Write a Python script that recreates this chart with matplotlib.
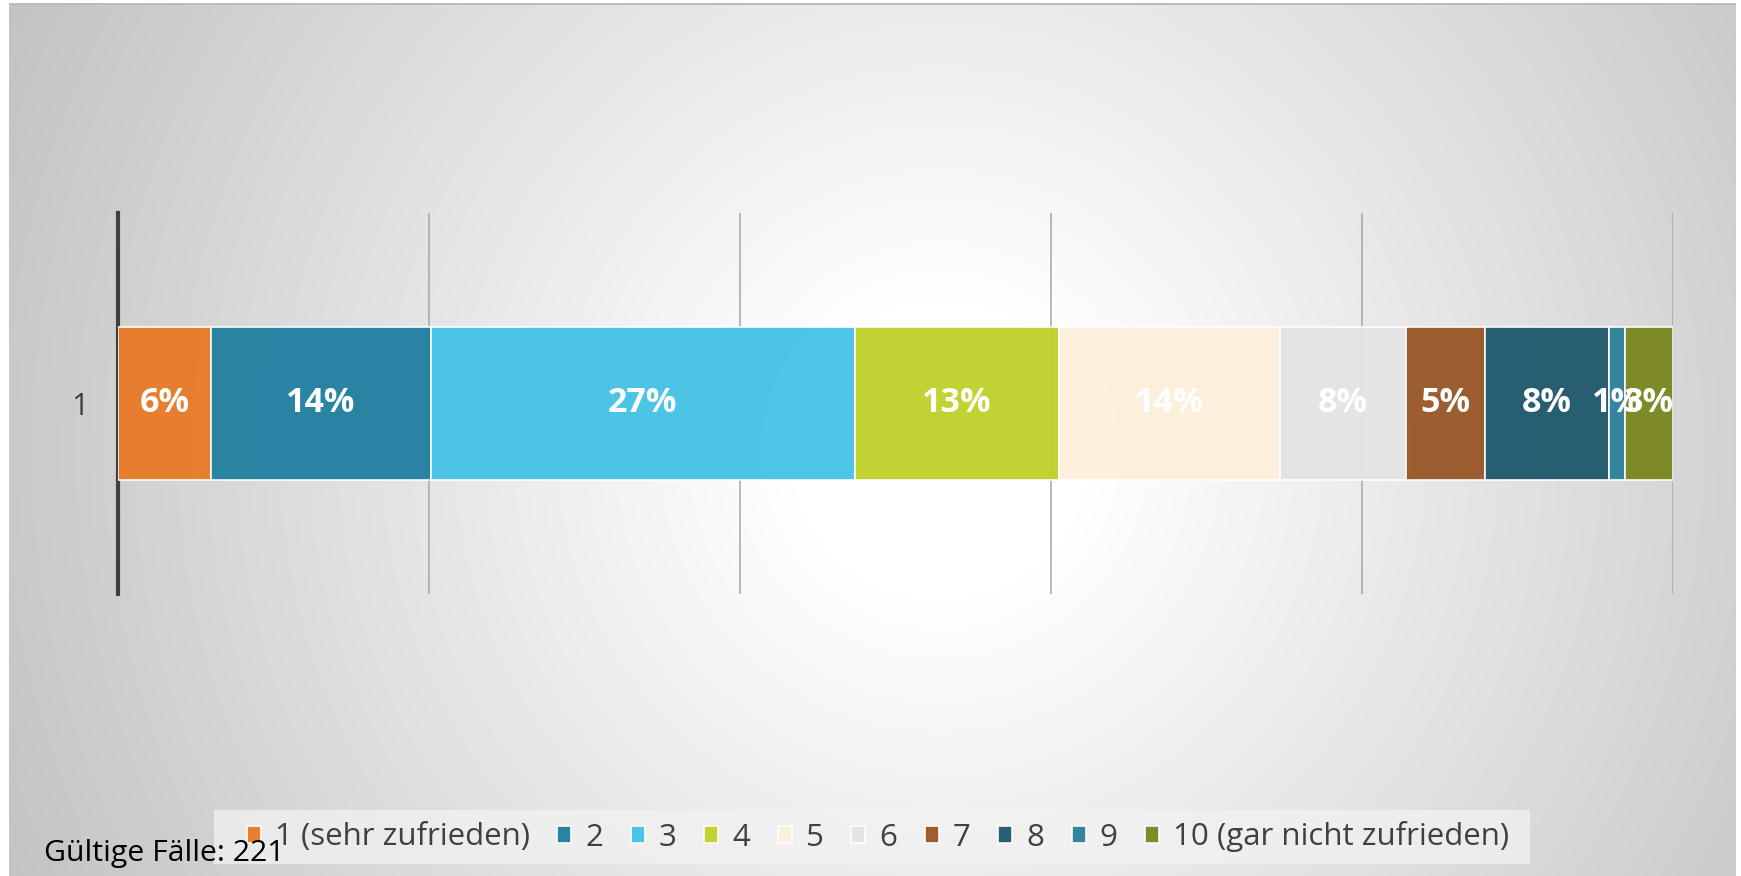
import numpy as np
import matplotlib
matplotlib.use("Agg")
import matplotlib.pyplot as plt
from matplotlib.patches import Rectangle

plt.rcParams["font.family"] = ["Open Sans", "DejaVu Sans"]

# Share of answers per rating (percent), one stacked bar
categories = ["1 (sehr zufrieden)", "2", "3", "4", "5", "6", "7", "8", "9",
              "10 (gar nicht zufrieden)"]
shares = [6.0, 14.1, 27.3, 13.1, 14.2, 8.1, 5.1, 8.0, 1.0, 3.1]
row_labels = ["1"]
n_cases = 221

colors = ["#E87B2A", "#2380A0", "#46C3E6", "#BFD22B", "#FDF0DC",
          "#E3E4E3", "#9A5A2A", "#215A6D", "#2F829A", "#7B8722"]

W, H = 1741, 876
fig = plt.figure(figsize=(W / 100, H / 100), dpi=100)
fig.patch.set_facecolor("white")

# radial grey-to-white background like the spreadsheet chart area
bg = fig.add_axes([0, 0, 1, 1], zorder=-5)
yy, xx = np.mgrid[0:H, 0:W]
d = np.hypot(xx - 940, yy - 450)
v = 1 - 0.25 * np.clip((d - 150) / 930, 0, 1)
img = np.dstack([v, v, v])
img[:3, :] = 1
img[3:5, 9:1736] = 0.74
img[:, :9] = 1
img[:, 1736:] = 1
bg.imshow(img, extent=(0, W, H, 0), aspect="auto", interpolation="nearest")
# legend box sits behind the legend entries
bg.add_patch(Rectangle((214, 810), 1316, 54, facecolor="#f2f2f2", alpha=0.75,
                       edgecolor="none"))
bg.set_xlim(0, W)
bg.set_ylim(H, 0)
bg.axis("off")

ax = fig.add_axes([118 / W, 1 - 594 / H, (1673 - 118) / W, (594 - 213) / H])
ax.set_facecolor("none")

left = 0
for cat, val, col in zip(categories, shares, colors):
    ax.barh(0, val, left=left, height=0.4, color=col, edgecolor=(1, 1, 1, 0.6),
            linewidth=1.2, label=cat, zorder=3, alpha=0.97)
    ax.text(left + val / 2, 0, f"{round(val)}%", ha="center", va="center",
            color="white", fontsize=24.5, fontweight="bold", zorder=4)
    left += val

ax.set_xlim(0, 100)
ax.set_ylim(-0.5, 0.5)
ax.set_xticks([20, 40, 60, 80, 100])
ax.xaxis.grid(True, color="#a6a6a6", linewidth=1.1, zorder=1)
ax.tick_params(axis="x", length=0, labelbottom=False)
ax.set_yticks([0])
ax.set_yticklabels(row_labels)
ax.tick_params(axis="y", length=0, pad=21, labelsize=22, labelcolor="#404040")
for side in ["top", "right", "bottom"]:
    ax.spines[side].set_visible(False)
ax.spines["left"].set_color("#404040")
ax.spines["left"].set_linewidth(3)

fig.legend(loc="center", bbox_to_anchor=(878 / W, 1 - 837 / H), ncol=10,
           fontsize=22.5, frameon=False, borderpad=0.3,
           handlelength=0.45, handleheight=0.45, handletextpad=0.45,
           columnspacing=0.88, labelcolor="#404040")

fig.text(44 / W, 1 - 854 / H, f"Gültige Fälle: {n_cases}", ha="left",
         va="center", fontsize=21.8, color="black", zorder=10)

fig.savefig("out.png", dpi=100)
